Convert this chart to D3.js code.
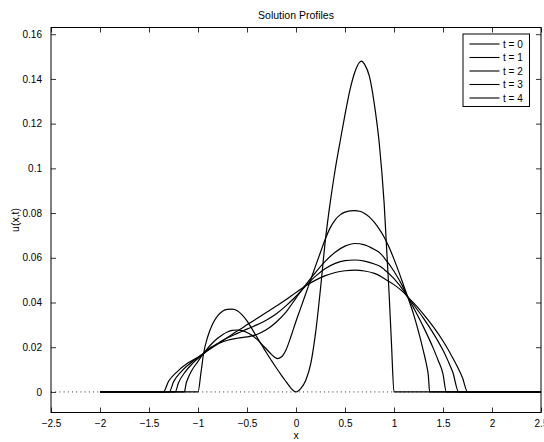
<!DOCTYPE html>
<html>
<head>
<meta charset="utf-8">
<script src="https://cdn.jsdelivr.net/npm/d3@7"></script>
<style>
    body { margin: 0; background: white; }
    text { font-family: 'Liberation Sans', Arial, sans-serif; }
</style>
</head>
<body>
<div id="chart"></div>
<script>
// values: [x, u]
let profileT0 = [
    [-2, 0], [-1.0, 0], [-0.97, 0.0085], [-0.943, 0.0172], [-0.9, 0.0248], [-0.85, 0.0305],
    [-0.8, 0.0340], [-0.75, 0.0361], [-0.7, 0.0369], [-0.65, 0.0370], [-0.6, 0.0363],
    [-0.55, 0.0345], [-0.5, 0.0318], [-0.45, 0.0283], [-0.4, 0.0246], [-0.35, 0.0210],
    [-0.3, 0.0174], [-0.25, 0.0140], [-0.2, 0.0107], [-0.15, 0.0075], [-0.1, 0.0045],
    [-0.05, 0.0016], [0, 0], [0.05, 0.0016], [0.1, 0.0052], [0.15, 0.0125], [0.2, 0.0265],
    [0.25, 0.0462], [0.3, 0.0680], [0.35, 0.0850], [0.4, 0.0995], [0.45, 0.1120],
    [0.5, 0.1240], [0.55, 0.1350], [0.6, 0.1430], [0.65, 0.1475], [0.67, 0.1480],
    [0.7, 0.1465], [0.75, 0.1410], [0.8, 0.1285], [0.85, 0.1110], [0.9, 0.0840],
    [0.95, 0.0440], [0.975, 0.0210], [1.0, 0], [2.5, 0]
];
let profileT1 = [
    [-2, 0], [-1.14, 0], [-1.12, 0.0040], [-1.1, 0.0063], [-1.071, 0.0090], [-1.0, 0.0137],
    [-0.943, 0.0172], [-0.9, 0.0196], [-0.85, 0.0220], [-0.8, 0.0240], [-0.75, 0.0256],
    [-0.7, 0.0268], [-0.65, 0.0275], [-0.6, 0.0277], [-0.55, 0.0274], [-0.5, 0.0266],
    [-0.45, 0.0253], [-0.4, 0.0236], [-0.35, 0.0214], [-0.3, 0.0191], [-0.25, 0.0168],
    [-0.19, 0.0149], [-0.15, 0.0156], [-0.1, 0.0190], [-0.05, 0.0250], [0, 0.0316],
    [0.05, 0.0378], [0.1, 0.0440], [0.15, 0.0502], [0.2, 0.0564], [0.25, 0.0625],
    [0.3, 0.0685], [0.35, 0.0735], [0.4, 0.0770], [0.45, 0.0792], [0.5, 0.0804],
    [0.55, 0.0810], [0.6, 0.0811], [0.65, 0.0808], [0.7, 0.0798], [0.75, 0.0782],
    [0.8, 0.0758], [0.85, 0.0728], [0.9, 0.0692], [0.95, 0.0647], [1.0, 0.0594],
    [1.05, 0.0536], [1.1, 0.0474], [1.14, 0.0425], [1.2, 0.0347], [1.25, 0.0270],
    [1.3, 0.0183], [1.33, 0.0125], [1.35, 0.0075], [1.364, 0], [2.5, 0]
];
let profileT2 = [
    [-2, 0], [-1.232, 0], [-1.2, 0.0040], [-1.13, 0.0090], [-1.05, 0.0130], [-0.943, 0.0172],
    [-0.9, 0.0190], [-0.8, 0.0215], [-0.7, 0.0231], [-0.6, 0.0240], [-0.5, 0.0246],
    [-0.4, 0.0257], [-0.3, 0.0279], [-0.2, 0.0313], [-0.1, 0.0358], [0, 0.0420],
    [0.1, 0.0480], [0.2, 0.0535], [0.3, 0.0585], [0.4, 0.0625], [0.5, 0.0652],
    [0.6, 0.0664], [0.7, 0.0658], [0.8, 0.0637], [0.86, 0.0620], [0.9, 0.0600],
    [1.0, 0.0540], [1.1, 0.0462], [1.14, 0.0425], [1.2, 0.0376], [1.3, 0.0291],
    [1.4, 0.0196], [1.45, 0.0142], [1.5, 0.0080], [1.534, 0], [2.5, 0]
];
let profileT3 = [
    [-2, 0], [-1.293, 0], [-1.25, 0.0045], [-1.173, 0.0090], [-1.05, 0.0138], [-0.943, 0.0172],
    [-0.9, 0.0187], [-0.8, 0.0217], [-0.7, 0.0242], [-0.6, 0.0262], [-0.5, 0.0281],
    [-0.4, 0.0300], [-0.3, 0.0322], [-0.2, 0.0350], [-0.1, 0.0386], [0, 0.0428],
    [0.1, 0.0475], [0.2, 0.0518], [0.3, 0.0552], [0.4, 0.0575], [0.5, 0.0587],
    [0.6, 0.0590], [0.7, 0.0585], [0.8, 0.0572], [0.86, 0.0561], [0.9, 0.0548],
    [1.0, 0.0507], [1.1, 0.0452], [1.14, 0.0425], [1.2, 0.0390], [1.3, 0.0330],
    [1.4, 0.0263], [1.5, 0.0186], [1.55, 0.0140], [1.6, 0.0088], [1.66, 0], [2.5, 0]
];
let profileT4 = [
    [-2, 0], [-1.354, 0], [-1.3, 0.0048], [-1.214, 0.0090], [-1.1, 0.0130], [-1.0, 0.0155],
    [-0.943, 0.0172], [-0.9, 0.0185], [-0.8, 0.0214], [-0.7, 0.0243], [-0.6, 0.0272],
    [-0.5, 0.0300], [-0.4, 0.0328], [-0.3, 0.0356], [-0.2, 0.0384], [-0.1, 0.0413],
    [0, 0.0445], [0.1, 0.0475], [0.2, 0.0500], [0.3, 0.0520], [0.4, 0.0534],
    [0.5, 0.0542], [0.6, 0.0545], [0.7, 0.0541], [0.8, 0.0530], [0.86, 0.0518],
    [0.9, 0.0507], [1.0, 0.0480], [1.1, 0.0444], [1.14, 0.0425], [1.2, 0.0398],
    [1.3, 0.0348], [1.4, 0.0292], [1.5, 0.0228], [1.6, 0.0152], [1.7, 0.0062],
    [1.751, 0], [2.5, 0]
];
let profiles = [profileT0, profileT1, profileT2, profileT3, profileT4];
let legendNames = ['t = 0', 't = 1', 't = 2', 't = 3', 't = 4'];

let xTicks = [-2.5, -2, -1.5, -1, -0.5, 0, 0.5, 1, 1.5, 2, 2.5];
let xTickLabels = ['\u22122.5', '\u22122', '\u22121.5', '\u22121', '\u22120.5', '0', '0.5', '1', '1.5', '2', '2.5'];
let yTicks = [0, 0.02, 0.04, 0.06, 0.08, 0.1, 0.12, 0.14, 0.16];
let yTickLabels = ['0', '0.02', '0.04', '0.06', '0.08', '0.1', '0.12', '0.14', '0.16'];

let width = 544;
let height = 442;
let plotLeft = 51;
let plotRight = 541;
let plotTop = 27.5;
let plotBottom = 412.5;
let tickLen = 5;

let svg = d3
    .select('#chart')
    .append('svg')
    .attr('width', width)
    .attr('height', height)
    .style('background', 'white');

let xScale = d3
    .scaleLinear()
    .domain([-2.5, 2.5])
    .range([plotLeft, plotRight]);

let yScale = d3
    .scaleLinear()
    .domain([-0.0092, 0.163])
    .range([plotBottom, plotTop]);

// dotted zero line
svg
    .append('line')
    .attr('x1', xScale(-2.5))
    .attr('x2', xScale(2.5))
    .attr('y1', yScale(0))
    .attr('y2', yScale(0))
    .attr('stroke', '#000')
    .attr('stroke-width', 0.8)
    .attr('stroke-dasharray', '1,3.2');

let line = d3
    .line()
    .x(d => xScale(d[0]))
    .y(d => yScale(d[1]))
    .curve(d3.curveMonotoneX);

svg
    .selectAll('path.profile')
    .data(profiles)
    .enter()
    .append('path')
    .attr('class', 'profile')
    .attr('d', line)
    .attr('fill', 'none')
    .attr('stroke', '#000')
    .attr('stroke-width', 1.2);

// axes: ticks inside, mirrored on top and right
let xAxisB = d3.axisBottom(xScale).tickValues(xTicks).tickFormat((d, i) => xTickLabels[i])
    .tickSizeInner(-tickLen).tickSizeOuter(0).tickPadding(7);
let xAxisT = d3.axisTop(xScale).tickValues(xTicks).tickFormat('')
    .tickSizeInner(-tickLen).tickSizeOuter(0);
let yAxisL = d3.axisLeft(yScale).tickValues(yTicks).tickFormat((d, i) => yTickLabels[i])
    .tickSizeInner(-tickLen).tickSizeOuter(0).tickPadding(9);
let yAxisR = d3.axisRight(yScale).tickValues(yTicks).tickFormat('')
    .tickSizeInner(-tickLen).tickSizeOuter(0);

svg.append('g').attr('class', 'axis').attr('transform', `translate(0,${plotBottom})`).call(xAxisB);
svg.append('g').attr('class', 'axis').attr('transform', `translate(0,${plotTop})`).call(xAxisT);
svg.append('g').attr('class', 'axis').attr('transform', `translate(${plotLeft},0)`).call(yAxisL);
svg.append('g').attr('class', 'axis').attr('transform', `translate(${plotRight},0)`).call(yAxisR);

svg.selectAll('.axis .domain').remove();
svg.selectAll('.axis line').attr('stroke', '#000').attr('stroke-width', 0.8);
svg.selectAll('.axis text')
    .attr('font-size', 10)
    .attr('fill', '#000')
    .style('font-family', "'Liberation Sans', Arial, sans-serif");

svg
    .append('rect')
    .attr('x', plotLeft)
    .attr('y', plotTop)
    .attr('width', plotRight - plotLeft)
    .attr('height', plotBottom - plotTop)
    .attr('fill', 'none')
    .attr('stroke', '#000')
    .attr('stroke-width', 1);

// title and labels
svg
    .append('text')
    .text('Solution Profiles')
    .attr('x', (plotLeft + plotRight) / 2)
    .attr('y', 19)
    .attr('text-anchor', 'middle')
    .attr('font-size', 10.5);

svg
    .append('text')
    .text('x')
    .attr('x', (plotLeft + plotRight) / 2)
    .attr('y', 438.5)
    .attr('text-anchor', 'middle')
    .attr('font-size', 10.5);

svg
    .append('text')
    .text('u(x,t)')
    .attr('transform', `translate(19, ${(plotTop + plotBottom) / 2}) rotate(-90)`)
    .attr('text-anchor', 'middle')
    .attr('font-size', 10.5);

// legend
let legend = svg.append('g').attr('transform', 'translate(463, 34)');
legend
    .append('rect')
    .attr('x', 0)
    .attr('y', 0)
    .attr('width', 66.5)
    .attr('height', 72.5)
    .attr('fill', 'white')
    .attr('stroke', '#000')
    .attr('stroke-width', 1);

legendNames.forEach((name, i) => {
    let ly = 10 + i * 13.5;
    legend
        .append('line')
        .attr('x1', 6.5)
        .attr('x2', 36.5)
        .attr('y1', ly)
        .attr('y2', ly)
        .attr('stroke', '#000')
        .attr('stroke-width', 1.1);
    legend
        .append('text')
        .text(name)
        .attr('x', 40)
        .attr('y', ly + 3.6)
        .attr('font-size', 10);
});
</script>
</body>
</html>
